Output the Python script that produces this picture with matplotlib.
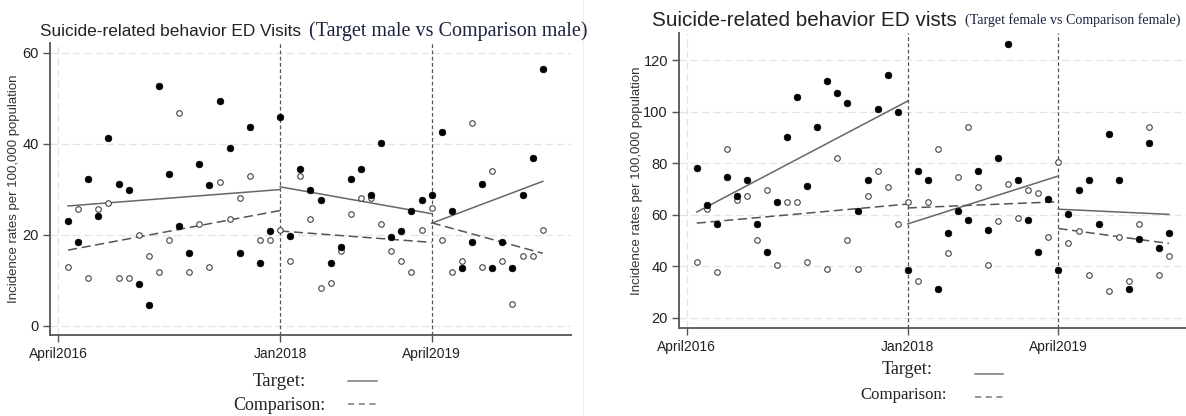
import matplotlib.pyplot as plt
import numpy as np

# monthly points, index 0 = first month of series
male_target = [22.9, 18.4, 32.2, 24.1, 41.3, 31.1, 29.8, 9.2, 4.6, 52.7,
               33.3, 21.8, 16.0, 35.6, 31.0, 49.3, 39.0, 16.0, 43.6, 13.8,
               20.7, 45.9, 19.6, 34.5, 29.9, 27.6, 13.8, 17.2, 32.2, 34.5,
               28.8, 40.1, 19.5, 20.7, 25.3, 27.6, 28.7, 42.5, 25.3, 12.7,
               18.4, 31.1, 12.7, 18.4, 12.7, 28.7, 36.8, 56.3]
male_comp = [12.9, 25.7, 10.5, 25.7, 27.0, 10.5, 10.5, 19.9, 15.2, 11.7,
             18.8, 46.8, 11.7, 22.3, 12.9, 31.6, 23.4, 28.1, 32.8, 18.8,
             18.8, 21.1, 14.1, 32.8, 23.4, 8.2, 9.4, 16.4, 24.6, 28.1,
             28.1, 22.3, 16.4, 14.1, 11.7, 21.1, 25.8, 18.8, 11.7, 14.1,
             44.5, 12.9, 34.0, 14.1, 4.7, 15.2, 15.2, 21.1]
female_target = [78.2, 63.7, 56.5, 74.6, 67.3, 73.3, 56.5, 45.6, 64.8, 90.1,
                 105.8, 71.0, 93.9, 111.7, 107.1, 103.4, 61.3, 73.3, 101.0, 114.3,
                 99.7, 38.5, 76.9, 73.3, 31.3, 52.9, 61.4, 57.8, 76.9, 54.2,
                 81.8, 126.2, 73.3, 57.8, 45.6, 66.2, 38.5, 60.2, 69.7, 73.3,
                 56.5, 91.3, 73.3, 31.1, 50.4, 87.7, 46.9, 52.9]
female_comp = [41.5, 62.2, 37.9, 85.5, 65.7, 67.1, 50.0, 69.7, 40.3, 64.8,
               64.8, 41.5, np.nan, 39.0, 81.9, 50.2, 39.0, 67.2, 76.9, 70.8,
               56.2, 64.8, 34.2, 64.8, 85.5, 45.1, 74.6, 94.0, 70.8, 40.3,
               57.4, 72.0, 58.6, 69.4, 68.4, 51.3, 80.5, 48.9, 53.6, 36.6,
               np.nan, 30.5, 51.2, 34.4, 56.2, 94.0, 36.6, 43.9]

# segment bounds and fitted trend (start, end) per segment
segments = [(0, 21), (21, 36), (36, 47)]
male_target_fit = [(26.3, 29.9), (30.5, 24.6), (22.5, 31.7)]
male_comp_fit = [(16.6, 25.3), (20.8, 18.3), (22.6, 15.9)]
female_target_fit = [(61.0, 104.1), (56.4, 75.0), (62.1, 60.1)]
female_comp_fit = [(56.7, 64.1), (62.6, 65.0), (54.6, 48.8)]

tick_pos = [-1, 21, 36]
tick_labels = ['April2016', 'Jan2018', 'April2019']
cuts = [21, 36]

plt.rcParams['font.family'] = ['Liberation Sans', 'DejaVu Sans']
serif = ['Liberation Serif', 'DejaVu Serif']

W, H = 1186, 416
fig = plt.figure(figsize=(W/100, H/100), dpi=100)
ax1 = fig.add_axes([50/W, 1-335/H, 521/W, 292/H])
ax2 = fig.add_axes([679/W, 1-327.7/H, 507/W, 294.7/H])


def panel(ax, tgt, cmp, tfit, cfit, yticks, ylim, lab_x):
    t = np.arange(len(tgt))
    for y in yticks:
        ax.axhline(y, color='#e4e4e4', lw=0.9, ls=(0, (6, 3)), zorder=0)
    ax.axvline(tick_pos[0], color='#e4e4e4', lw=0.9, ls=(0, (6, 3)), zorder=0)
    for c in cuts:
        ax.axvline(c, color='#555555', lw=0.9, ls=(0, (3, 2)), zorder=1)
    for (a, b), (ts, te), (cs, ce) in zip(segments, tfit, cfit):
        ax.plot([a, b], [ts, te], color='#666666', lw=1.1, zorder=2)
        ax.plot([a, b], [cs, ce], color='#555555', lw=1.1,
                ls=(0, (6, 3)), zorder=2)
    ax.plot(t, cmp, 'o', ms=4, mfc='white', mec='#444444', mew=0.8, zorder=3)
    ax.plot(t, tgt, 'o', ms=4.8, mfc='black', mec='black', mew=0.5, zorder=4)
    ax.set_ylim(*ylim)
    ax.set_yticks(yticks)
    ax.set_xticks(tick_pos)
    ax.set_xticklabels(tick_labels)
    for s in ['top', 'right']:
        ax.spines[s].set_visible(False)
    for s in ['left', 'bottom']:
        ax.spines[s].set_color('#555555')
        ax.spines[s].set_linewidth(1.3)
    ax.tick_params(colors='#555555', labelcolor='#222222', labelsize=10,
                   length=5, width=1)
    ax.tick_params(axis='y', labelsize=10.5, pad=3)
    ax.set_ylabel('Incidence rates per 100,000 population', fontsize=9.5,
                  color='#333333')
    ax.yaxis.set_label_coords(lab_x, 0.5)


panel(ax1, male_target, male_comp, male_target_fit, male_comp_fit,
      [0, 20, 40, 60], (-2.05, 62.1), -30/521)
ax1.set_xlim(-1.79, 49.8)
panel(ax2, female_target, female_comp, female_target_fit, female_comp_fit,
      [20, 40, 60, 80, 100, 120], (16.1, 130.5), -36/507)
ax2.set_xlim(-1.77, 48.7)

fig.canvas.draw()
rend = fig.canvas.get_renderer()


def fit_text(x0, x1, yc, s, size, ha='left', **kw):
    # place text and scale its size so it spans x0..x1 pixels
    xpos = x0 if ha == 'left' else (x0 + x1) / 2
    tx = fig.text(xpos/W, 1-yc/H, s, fontsize=size, ha=ha, va='center', **kw)
    w = tx.get_window_extent(rend).width
    tx.set_fontsize(size * (x1 - x0) / w)
    return tx


# titles
fit_text(40, 301, 31, 'Suicide-related behavior ED Visits', 12.5, color='#222222')
fit_text(309, 588, 31, '(Target male vs Comparison male)', 13, family=serif,
         color='#1c2340')
fit_text(652, 958, 20, 'Suicide-related behavior ED vists', 14, color='#222222')
fit_text(965, 1180, 20, '(Target female vs Comparison female)', 11, family=serif,
         color='#1c2340')

# legends
for (t0, t1, yt), (c0, c1, yc), (lx0, lx1, lyt, lyc) in [
        ((253, 306, 381), (233, 325, 405), (348, 377, 381, 404)),
        ((882, 933, 369), (861, 947, 395), (975, 1003, 374, 397))]:
    fit_text(t0, t1, yt, 'Target:', 13, ha='center', family=serif, color='#222222')
    fit_text(c0, c1, yc, 'Comparison:', 13, ha='center', family=serif,
             color='#222222')
    fig.add_artist(plt.Line2D([lx0/W, lx1/W], [1-lyt/H, 1-lyt/H],
                              color='#777777', lw=1.1))
    fig.add_artist(plt.Line2D([lx0/W, lx1/W], [1-lyc/H, 1-lyc/H],
                              color='#777777', lw=1.1, ls=(0, (4, 3))))

fig.add_artist(plt.Line2D([583/W, 583/W], [0, 1], color='#eeeeee', lw=0.8))

plt.savefig('out.png', dpi=100)
